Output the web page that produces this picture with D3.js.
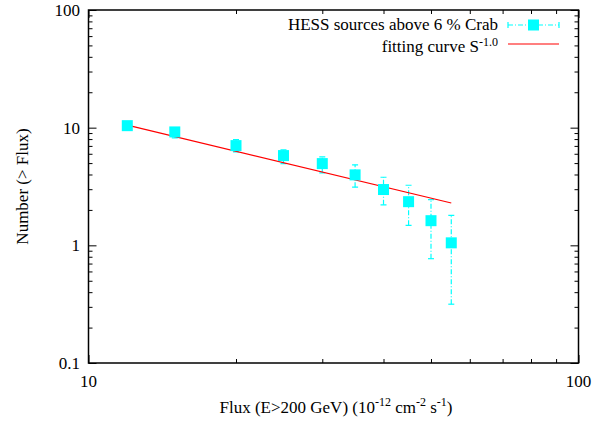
<!DOCTYPE html>
<html><head><meta charset="utf-8">
<script src="https://cdn.jsdelivr.net/npm/d3@7"></script>
<style>body{margin:0;background:#fff}svg{display:block}</style>
</head><body><svg id="c" width="597" height="424" style="font-family:'Liberation Serif','Times New Roman','DejaVu Serif',serif"></svg>
<script>
// Data
const fluxValues = [12, 15, 20, 25, 30, 35, 40, 45, 50, 55];
const countValues = [10.4, 9.2, 7.04, 5.79, 4.95, 3.97, 2.98, 2.35, 1.62, 1.05];
const errLow = [10.0, 8.2, 6.22, 4.95, 4.13, 3.12, 2.21, 1.48, 0.77, 0.316];
const errHigh = [10.8, 9.6, 7.9, 6.47, 5.65, 4.83, 3.79, 3.24, 2.45, 1.80];
const fitX = [12, 55];
const fitY = [10.5, 2.29];
const xTickLabels = [10, 100];
const yTickLabels = [0.1, 1, 10, 100];
const seriesLabel = "HESS sources above 6 % Crab";

const FONT = "'Liberation Serif','Times New Roman','DejaVu Serif',serif";
const svg = d3.select("#c");
const L = 88.5, R = 578.5, T = 10, B = 363;
const x = d3.scaleLog().domain([10, 100]).range([L, R]);
const y = d3.scaleLog().domain([0.1, 100]).range([B, T]);
const fs = 17, sfs = 12;
const cyan = "#00ffff", red = "#ff0000";

const xMinor = []; for (let v = 20; v < 100; v += 10) xMinor.push(v);
const yMinor = []; [0.1, 1, 10].forEach(d => { for (let k = 2; k <= 9; k++) yMinor.push(d * k); });

function ticks(g, axisGen, size) {
  g.call(axisGen.tickSize(size).tickFormat(""));
  g.select(".domain").remove();
  g.selectAll("line").attr("stroke", "#000").attr("stroke-width", 1);
}
svg.append("g").attr("transform", `translate(0,${B})`).call(g => ticks(g, d3.axisTop(x).tickValues(xTickLabels), 8));
svg.append("g").attr("transform", `translate(0,${B})`).call(g => ticks(g, d3.axisTop(x).tickValues(xMinor), 4));
svg.append("g").attr("transform", `translate(0,${T})`).call(g => ticks(g, d3.axisBottom(x).tickValues(xTickLabels), 8));
svg.append("g").attr("transform", `translate(0,${T})`).call(g => ticks(g, d3.axisBottom(x).tickValues(xMinor), 4));
svg.append("g").attr("transform", `translate(${L},0)`).call(g => ticks(g, d3.axisRight(y).tickValues(yTickLabels), 8));
svg.append("g").attr("transform", `translate(${L},0)`).call(g => ticks(g, d3.axisRight(y).tickValues(yMinor), 4));
svg.append("g").attr("transform", `translate(${R},0)`).call(g => ticks(g, d3.axisLeft(y).tickValues(yTickLabels), 8));
svg.append("g").attr("transform", `translate(${R},0)`).call(g => ticks(g, d3.axisLeft(y).tickValues(yMinor), 4));

svg.append("rect").attr("x", L).attr("y", T).attr("width", R - L).attr("height", B - T)
  .attr("fill", "none").attr("stroke", "#000").attr("stroke-width", 1.5);

function txt(sel) { return sel.attr("font-family", FONT).attr("fill", "#000"); }

svg.selectAll(".yl").data(yTickLabels).join("text").attr("class", "yl").call(txt)
  .attr("x", 80).attr("y", d => y(d)).attr("dy", "0.35em").attr("text-anchor", "end")
  .attr("font-size", fs).text(d => d);
svg.selectAll(".xl").data(xTickLabels).join("text").attr("class", "xl").call(txt)
  .attr("x", d => x(d)).attr("y", B + 24).attr("text-anchor", "middle")
  .attr("font-size", fs).text(d => d);

svg.append("text").call(txt).attr("transform", `translate(28,${(T + B) / 2}) rotate(-90)`)
  .attr("text-anchor", "middle").attr("font-size", fs).text("Number (> Flux)");
const xt = svg.append("text").call(txt).attr("x", 336).attr("y", 413).attr("text-anchor", "middle").attr("font-size", fs);
xt.append("tspan").text("Flux (E>200 GeV) (10");
xt.append("tspan").attr("dy", -7).attr("font-size", sfs).text("-12");
xt.append("tspan").attr("dy", 7).text(" cm");
xt.append("tspan").attr("dy", -7).attr("font-size", sfs).text("-2");
xt.append("tspan").attr("dy", 7).text(" s");
xt.append("tspan").attr("dy", -7).attr("font-size", sfs).text("-1");
xt.append("tspan").attr("dy", 7).text(")");

svg.append("clipPath").attr("id", "clip").append("rect").attr("x", L).attr("y", T).attr("width", R - L).attr("height", B - T);
const plot = svg.append("g").attr("clip-path", "url(#clip)");

const dash = "5,2,1,2";
const idx = d3.range(fluxValues.length);
plot.selectAll(".eb").data(idx).join("line").attr("class", "eb")
  .attr("x1", i => x(fluxValues[i])).attr("x2", i => x(fluxValues[i]))
  .attr("y1", i => y(errLow[i])).attr("y2", i => y(errHigh[i]))
  .attr("stroke", cyan).attr("stroke-width", 1.2).attr("stroke-dasharray", dash);
["lo", "hi"].forEach(k => {
  plot.selectAll(".cap" + k).data(idx).join("line").attr("class", "cap" + k)
    .attr("x1", i => x(fluxValues[i]) - 3).attr("x2", i => x(fluxValues[i]) + 3)
    .attr("y1", i => y(k === "lo" ? errLow[i] : errHigh[i])).attr("y2", i => y(k === "lo" ? errLow[i] : errHigh[i]))
    .attr("stroke", cyan).attr("stroke-width", 1.2);
});

plot.append("path").datum(d3.range(fitX.length))
  .attr("d", d3.line().x(i => x(fitX[i])).y(i => y(fitY[i])))
  .attr("fill", "none").attr("stroke", red).attr("stroke-width", 1.2);

const sq = 11;
plot.selectAll(".pt").data(idx).join("rect").attr("class", "pt")
  .attr("x", i => x(fluxValues[i]) - sq / 2).attr("y", i => y(countValues[i]) - sq / 2)
  .attr("width", sq).attr("height", sq).attr("fill", cyan);

const lx1 = 508, lx2 = 559, ly1 = 25, ly2 = 44;
svg.append("text").call(txt).attr("x", 498).attr("y", 30).attr("text-anchor", "end").attr("font-size", fs).text(seriesLabel);
svg.append("line").attr("x1", lx1).attr("x2", lx2).attr("y1", ly1).attr("y2", ly1)
  .attr("stroke", cyan).attr("stroke-width", 1.2).attr("stroke-dasharray", dash);
[lx1, lx2].forEach(px => svg.append("line").attr("x1", px).attr("x2", px).attr("y1", ly1 - 3).attr("y2", ly1 + 3).attr("stroke", cyan).attr("stroke-width", 1.2));
svg.append("rect").attr("x", (lx1 + lx2) / 2 - sq / 2).attr("y", ly1 - sq / 2).attr("width", sq).attr("height", sq).attr("fill", cyan);
const lt = svg.append("text").call(txt).attr("x", 498).attr("y", 52).attr("text-anchor", "end").attr("font-size", fs);
lt.append("tspan").text("fitting curve S");
lt.append("tspan").attr("dy", -6.5).attr("font-size", sfs).text("-1.0");
svg.append("line").attr("x1", lx1).attr("x2", lx2).attr("y1", ly2).attr("y2", ly2).attr("stroke", red).attr("stroke-width", 1.2);
</script></body></html>
